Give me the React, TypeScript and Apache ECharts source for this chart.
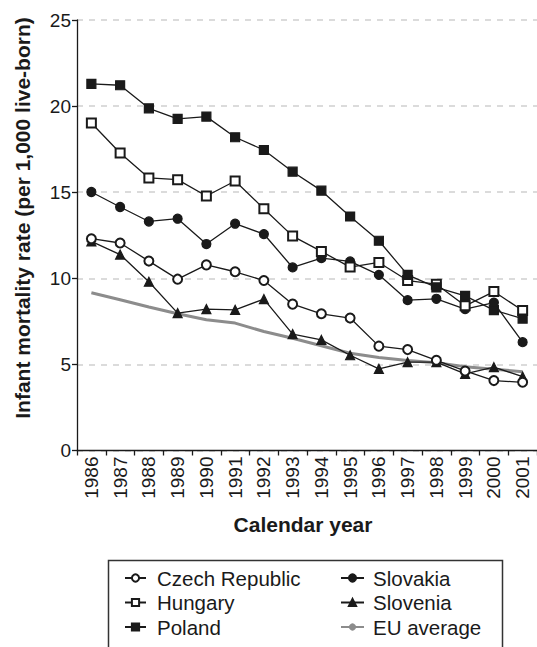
import React, { useEffect, useRef } from "react";
import * as echarts from "echarts";

const years = ["1986","1987","1988","1989","1990","1991","1992","1993","1994","1995","1996","1997","1998","1999","2000","2001"];
const czech = [12.3, 12.05, 11.0, 9.95, 10.78, 10.38, 9.87, 8.5, 7.94, 7.69, 6.06, 5.86, 5.24, 4.62, 4.06, 3.96];
const hungary = [19.02, 17.28, 15.83, 15.73, 14.78, 15.65, 14.04, 12.45, 11.56, 10.65, 10.92, 9.87, 9.66, 8.4, 9.23, 8.13];
const poland = [21.29, 21.21, 19.87, 19.26, 19.39, 18.19, 17.45, 16.19, 15.09, 13.59, 12.18, 10.2, 9.47, 8.98, 8.15, 7.66];
const slovakia = [15.01, 14.14, 13.3, 13.46, 11.99, 13.17, 12.57, 10.63, 11.17, 10.98, 10.2, 8.73, 8.81, 8.21, 8.59, 6.29];
const slovenia = [12.14, 11.38, 9.8, 7.98, 8.21, 8.17, 8.79, 6.76, 6.42, 5.53, 4.74, 5.13, 5.13, 4.45, 4.84, 4.29];
const euAverage = [9.16, 8.75, 8.33, 7.94, 7.59, 7.4, 6.91, 6.52, 6.08, 5.65, 5.4, 5.22, 5.1, 4.87, 4.72, 4.58];
const yTicks = { min: 0, max: 25, interval: 5 };

const FONT = "Liberation Sans, Arial, Helvetica, sans-serif";
const INK = "#1a1a1a";

export default function App() {
  const ref = useRef<HTMLDivElement>(null);
  useEffect(() => {
    if (!ref.current) return;
    const chart = echarts.init(ref.current, undefined, { renderer: "svg" });
    const lineSeries = (name: string, data: number[], symbol: string, size: number) => ({
      name,
      type: "line",
      data,
      symbol,
      symbolSize: size,
      showSymbol: true,
      lineStyle: { color: INK, width: 1.3 },
      itemStyle: { color: INK, borderColor: INK, borderWidth: 1.2 },
    });
    const legendText = { fontSize: 20.5, color: INK, fontFamily: FONT, lineHeight: 22 };
    chart.setOption({
      animation: false,
      textStyle: { fontFamily: FONT },
      grid: { left: 77, right: 0, top: 20, bottom: 196.5, containLabel: false },
      xAxis: {
        type: "category",
        data: years,
        boundaryGap: true,
        axisLine: { lineStyle: { color: INK, width: 1.3 } },
        axisTick: { show: true, length: 5, lineStyle: { color: INK, width: 1.3 } },
        axisLabel: { rotate: 90, color: INK, fontSize: 19, fontFamily: FONT, margin: 6 },
      },
      yAxis: {
        type: "value",
        min: yTicks.min,
        max: yTicks.max,
        interval: yTicks.interval,
        axisLine: { show: true, lineStyle: { color: INK, width: 1.3 } },
        axisTick: { show: true, length: 5, lineStyle: { color: INK, width: 1.3 } },
        axisLabel: { color: INK, fontSize: 19, fontFamily: FONT, margin: 6 },
        splitLine: { show: true, lineStyle: { color: "#cfcfcf", width: 1.5, type: [6, 6] } },
      },
      legend: [
        {
          data: ["Czech Republic", "Hungary", "Poland"],
          orient: "vertical",
          left: 124,
          top: 567,
          height: 80,
          padding: 0,
          itemWidth: 21,
          itemHeight: 9,
          itemGap: 2.5,
          textStyle: { ...legendText, padding: [0, 0, 0, 6] },
        },
        {
          data: ["Slovakia", "Slovenia", "EU average"],
          orient: "vertical",
          left: 340,
          top: 567,
          height: 80,
          padding: 0,
          itemWidth: 23,
          itemHeight: 9,
          itemGap: 2.5,
          textStyle: { ...legendText, padding: [0, 0, 0, 4] },
        },
      ],
      graphic: [
        {
          type: "rect",
          shape: { x: 108.5, y: 560.5, width: 394, height: 120 },
          style: { fill: "none", stroke: "#333", lineWidth: 1.5 },
          silent: true,
        },
        {
          type: "text",
          x: 22,
          y: 218,
          rotation: Math.PI / 2,
          style: {
            text: "Infant mortality rate (per 1,000 live-born)",
            font: `bold 21px ${FONT}`,
            fill: INK,
            align: "center",
            verticalAlign: "middle",
          },
        },
        {
          type: "text",
          x: 303,
          y: 524,
          style: {
            text: "Calendar year",
            font: `bold 21px ${FONT}`,
            fill: INK,
            align: "center",
            verticalAlign: "middle",
          },
        },
      ],
      series: [
        {
          name: "EU average",
          type: "line",
          data: euAverage,
          symbol: "none",
          lineStyle: { color: "#8c8c8c", width: 3 },
          itemStyle: { color: "#8c8c8c" },
          z: 1,
        },
        lineSeries("Slovenia", slovenia, "triangle", 9),
        lineSeries("Czech Republic", czech, "emptyCircle", 9),
        lineSeries("Slovakia", slovakia, "circle", 9),
        lineSeries("Hungary", hungary, "emptyRect", 9),
        lineSeries("Poland", poland, "rect", 9),
      ],
    });
    return () => chart.dispose();
  }, []);
  return (
    <div
      ref={ref}
      style={{ position: "fixed", left: 0, top: 0, width: 537, height: 647, background: "#fff" }}
    />
  );
}
